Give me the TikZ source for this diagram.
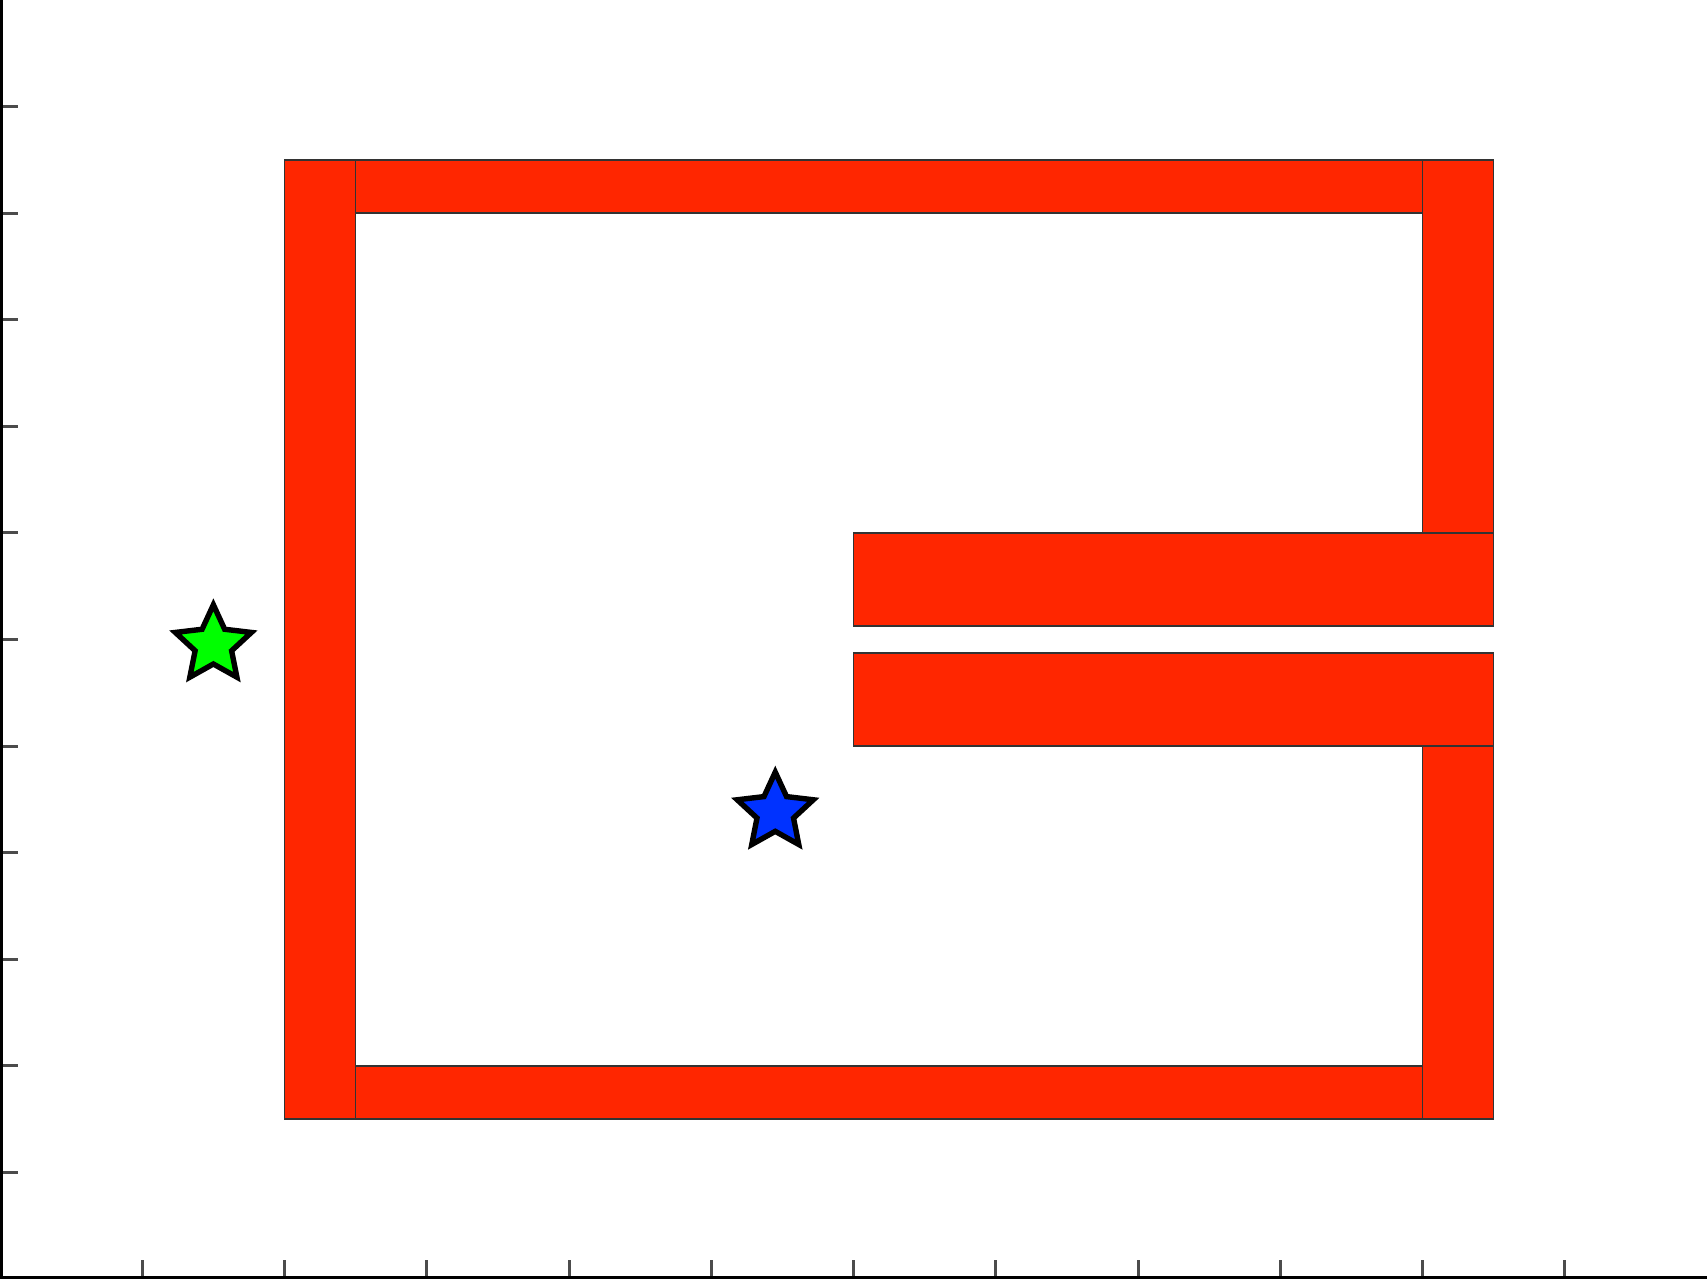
\documentclass[tikz,border=0pt]{standalone}
\definecolor{wallred}{RGB}{255,38,0}
\definecolor{stargreen}{RGB}{0,255,0}
\definecolor{starblue}{RGB}{0,50,255}
\tikzset{
  wall/.style={fill=wallred, draw=black!80, line width=0.8pt},
  goal/.style={draw=black, line width=2.7pt, line join=miter},
  tick/.style={draw=black!70, line width=1.5pt}
}
\newcommand{\starpath}{(90:20pt) -- (126:9.6pt) -- (162:20pt) -- (198:9.6pt) -- (234:20pt) -- (270:9.6pt) -- (306:20pt) -- (342:9.6pt) -- (18:20pt) -- (54:9.6pt) -- cycle}
\begin{document}
\begin{tikzpicture}[x=71.125pt, y=53.29pt]
\useasboundingbox (0,0) rectangle (12,12);
\fill[white] (0,0) rectangle (12,12);
% walls
\draw[wall] (2,1.5) rectangle (2.5,10.5);
\draw[wall] (2.5,10) rectangle (10,10.5);
\draw[wall] (10,7) rectangle (10.5,10.5);
\draw[wall] (6,6.125) rectangle (10.5,7);
\draw[wall] (6,5) rectangle (10.5,5.875);
\draw[wall] (10,1.5) rectangle (10.5,5);
\draw[wall] (2.5,1.5) rectangle (10,2);
% stars
\coordinate (start) at (1.5,5.95);
\coordinate (target) at (5.45,4.38);
\begin{scope}[shift={(start)}]
  \draw[goal, fill=stargreen] \starpath;
\end{scope}
\begin{scope}[shift={(target)}]
  \draw[goal, fill=starblue] \starpath;
\end{scope}
% axes
\foreach \i in {1,...,11} {
  \draw[tick] (\i,0) -- ++(0,9.5pt);
  \draw[tick] (0,\i) -- ++(9pt,0);
}
\draw[black, line width=1.6pt] (0.011,0) -- (0.011,12);
\draw[black, line width=1.6pt] (0,0.015) -- (12,0.015);
\end{tikzpicture}
\end{document}
